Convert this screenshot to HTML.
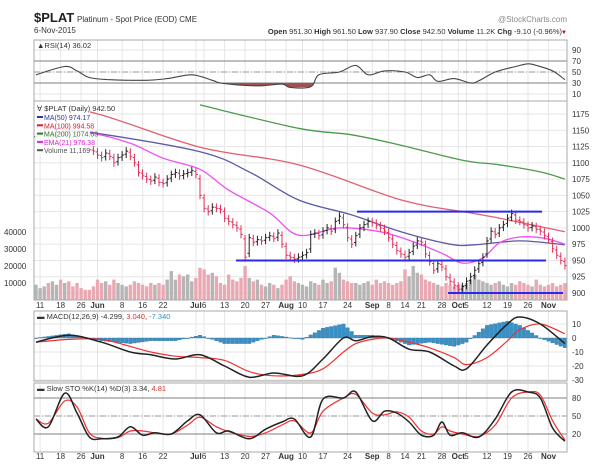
<!DOCTYPE html>
<html><head><meta charset="utf-8"><style>
body{margin:0;background:#fff;font-family:"Liberation Sans",sans-serif}
svg text{font-family:"Liberation Sans",sans-serif}
</style></head><body>
<svg id="c" width="600" height="470" xmlns="http://www.w3.org/2000/svg"></svg>
<script>
const closes=[1140,1145,1150,1135,1140,1150,1145,1155,1150,1140,
1135,1130,1125,1120,1118,1112,1108,1115,1110,1100,
1108,1112,1118,1110,1100,1085,1080,1075,1072,1078,
1070,1068,1075,1082,1085,1080,1083,1085,1088,1082,
1050,1030,1025,1032,1030,1028,1015,1010,1005,1000,
990,955,985,978,982,980,985,988,984,992,
975,958,955,952,955,958,962,990,992,988,
995,1000,995,1010,1018,1005,985,975,988,1000,
1005,1010,1008,1004,1000,995,985,975,965,960,
955,962,972,980,978,960,948,935,945,940,
925,918,912,905,910,918,925,935,945,955,
980,995,990,1000,1005,1015,1022,1012,1010,1005,
1000,1003,998,995,988,982,968,958,950,942];
const volumes=[9000,7000,8000,10000,11000,9000,12000,10000,11000,8000,
10000,7000,6000,6000,8000,12000,10000,11000,9000,12000,
10000,9000,8000,9000,11000,10000,9000,8000,10000,9000,
10000,9000,12000,17000,12000,15000,14000,15000,11000,13000,
19000,18000,15000,16000,14000,10000,9000,15000,12000,11000,
13000,20000,13000,11000,12000,9000,8000,10000,9000,7000,
9000,12000,14000,11000,10000,9000,8000,11000,10000,9000,
12000,10000,11000,19000,16000,12000,11000,10000,10000,9000,
10000,11000,9000,12000,10000,11000,10000,9000,10000,11000,
18000,14000,20000,16000,15000,12000,11000,10000,9000,8000,
10000,9000,8000,9000,9000,10000,12000,15000,12000,11000,
10000,9000,10000,11000,9000,8000,10000,9000,11000,10000,
9000,8000,12000,9000,8000,9000,10000,8000,9000,10000];
const ma50Days=[0,13,40,52,64,77,89,101,107,118,129];
const ma50=[1155,1147,1117,1086,1043,1020,994,975,974,980,974];
const ma100Days=[0,14,40,64,89,106,113,129];
const ma100=[1185,1177,1124,1097,1043,1023,1015,994];
const ma200Days=[40,64,77,89,104,113,123,129];
const ma200=[1189,1153,1143,1127,1104,1097,1086,1075];
const emaDays=[0,13,23,31,40,47,57,64,74,84,91,99,104,109,113,118,124,129];
const ema21=[1152,1146,1130,1107,1090,1058,1023,989,1000,994,981,961,946,954,977,986,984,975];
const rsiDays=[0,7,10,13,18,27,32,38,43,45,50,55,60,62,67,69,74,78,81,85,90,93,96,98,102,106,108,112,117,120,122,126,129];
const rsiVals=[45,60,52,40,36,35,38,45,35,30,26,25,28,22,23,45,50,62,45,52,50,40,45,33,38,30,34,50,60,65,62,52,36];
const macdDays=[0,8,16,23,28,34,40,46,52,58,65,70,75,78,82,86,91,96,102,105,110,115,118,123,129];
const macdVals=[-3,2,-3,-10,-12,-15,-12,-20,-28,-25,-27,-15,0,-2,1,0,-8,-10,-20,-22,-5,10,15,10,-4];
const sigVals=[-3,-1,-1,-6,-10,-13,-14,-16,-24,-27,-26,-22,-10,-4,-1,0,-3,-7,-14,-19,-14,-2,6,10,3];
const stoDays=[0,3,7,10,13,16,20,23,26,29,33,37,40,44,47,52,56,60,63,67,70,75,78,82,85,88,91,94,97,99,101,104,108,112,116,120,123,126,129];
const stoK=[45,32,88,55,15,12,15,32,18,22,20,42,52,22,25,12,28,40,45,15,78,80,90,42,58,55,40,18,18,40,18,22,15,45,90,90,80,30,8];
const stoD=[45,38,75,65,22,13,14,25,25,22,20,35,48,32,24,16,22,35,42,22,58,80,86,55,52,57,48,25,20,32,25,20,16,35,80,90,85,42,10];
const dateLabels=["11","18","26","Jun","8","16","22","Jul","6","13","20","27","Aug","10","17","24","Sep","8","14","21","28","Oct","5","12","19","26","Nov"];
const dateDays=[1,6,11,15,21,26,31,39,41,46,51,56,61,65,70,76,82,86,90,94,99,103,105,110,115,120,125];
const bolds=["Jun","Jul","Aug","Sep","Oct","Nov"];

const svg=document.getElementById('c');const NS='http://www.w3.org/2000/svg';
function mk(t,a,p){const e=document.createElementNS(NS,t);for(const k in a)e.setAttribute(k,a[k]);(p||svg).appendChild(e);return e;}
function tx(x,y,s,a,p){const e=mk('text',Object.assign({x:x,y:y,'font-size':8,fill:'#333'},a||{}),p);e.textContent=s;return e;}
const L=34,R=567;
const xs=i=>36+i*4.1;
const yP=p=>293-(p-900)*0.651;
const yV=v=>300-v/1000*1.7;
const yR=v=>72-(v-50)*0.55;
const yM=v=>338-v*1.4;
const yS=v=>416-(v-50)*0.6;
function interp(days,vals,i){for(let k=0;k<days.length-1;k++){if(i>=days[k]&&i<=days[k+1]){const t=(i-days[k])/(days[k+1]-days[k]);return vals[k]+t*(vals[k+1]-vals[k]);}}return vals[vals.length-1];}
function smoothPath(pts){let d='M'+pts[0][0].toFixed(1)+','+pts[0][1].toFixed(1);for(let k=0;k<pts.length-1;k++){const p0=pts[k-1]||pts[k],p1=pts[k],p2=pts[k+1],p3=pts[k+2]||p2;const c1=[p1[0]+(p2[0]-p0[0])/6,p1[1]+(p2[1]-p0[1])/6],c2=[p2[0]-(p3[0]-p1[0])/6,p2[1]-(p3[1]-p1[1])/6];d+='C'+c1[0].toFixed(1)+','+c1[1].toFixed(1)+' '+c2[0].toFixed(1)+','+c2[1].toFixed(1)+' '+p2[0].toFixed(1)+','+p2[1].toFixed(1);}return d;}
function line(days,vals,yf,col,w,name,clip){const pts=days.map((d,k)=>[xs(d),yf(vals[k])]);const e=mk('path',{d:smoothPath(pts),fill:'none',stroke:col,'stroke-width':w,'clip-path':clip||''});return e;}

let t=tx(34,22,'$PLAT',{'font-size':13,'font-weight':'bold',fill:'#222'});
t=tx(77,22,'Platinum  - Spot Price (EOD) CME',{'font-size':8});
t=tx(34,33,'6-Nov-2015',{'font-size':8});
t=tx(567,22,'@StockCharts.com',{'font-size':8,fill:'#888','text-anchor':'end'});
t=tx(562,34,'',{'font-size':7.5,'text-anchor':'end'});
t.innerHTML='<tspan font-weight="bold">Open</tspan> 951.30 <tspan font-weight="bold">High</tspan> 961.50 <tspan font-weight="bold">Low</tspan> 937.90 <tspan font-weight="bold">Close</tspan> 942.50 <tspan font-weight="bold">Volume</tspan> 11.2K <tspan font-weight="bold">Chg</tspan> -9.10 (-0.96%)';
t=tx(567,34,'▼',{'font-size':6,fill:'#c00','text-anchor':'end'});

const panels=[[40,101,'rsi-panel'],[101,300,'price-panel'],[311,381,'macd-panel'],[383,452,'sto-panel']];
const defs=mk('defs',{});
panels.forEach((p,k)=>{const cp=mk('clipPath',{id:'cp'+k},defs);mk('rect',{x:L,y:p[0],width:R-L,height:p[1]-p[0]},cp);});
panels.forEach(p=>{dateDays.forEach(d=>{mk('line',{x1:xs(d),x2:xs(d),y1:p[0],y2:p[1],stroke:'#e6e6e6','stroke-width':1});});});
function hgrid(vals,yf,name){vals.forEach(v=>{mk('line',{x1:L,x2:R,y1:yf(v),y2:yf(v),stroke:'#e6e6e6'});const e=tx(572,yf(v)+3,String(v),{'font-size':8});});}
hgrid([90,70,50,30,10],yR,'rsi-tick');
hgrid([1175,1150,1125,1100,1075,1050,1025,1000,975,950,925,900],yP,'price-tick');
hgrid([10,0,-10,-20,-30],yM,'macd-tick');
hgrid([80,50,20],yS,'sto-tick');
[10000,20000,30000,40000].forEach(v=>{const e=tx(4,yV(v)+3,String(v),{'font-size':8});});
[[70,yR],[30,yR],[80,yS],[20,yS]].forEach(r=>mk('line',{x1:L,x2:R,y1:r[1](r[0]),y2:r[1](r[0]),stroke:'#999','stroke-width':1.2}));
[[50,yR],[50,yS]].forEach(r=>mk('line',{x1:L,x2:R,y1:r[1](r[0]),y2:r[1](r[0]),stroke:'#999','stroke-dasharray':'6,2,1,2'}));

volumes.forEach((v,i)=>{const up=i==0||closes[i]>=closes[i-1];const e=mk('rect',{x:xs(i)-1.7,y:yV(v),width:3.4,height:300-yV(v),fill:up?'#b5b5b5':'#e9a9b2','clip-path':'url(#cp1)'});});
line(ma100Days,ma100,yP,'#e06070',1.3,'ma100-line','url(#cp1)');
line(ma200Days,ma200,yP,'#4a9a4a',1.3,'ma200-line','url(#cp1)');
line(ma50Days,ma50,yP,'#5a5aa8',1.3,'ma50-line','url(#cp1)');
line(emaDays,ema21,yP,'#f050f0',1.3,'ema21-line','url(#cp1)');
closes.forEach((c,i)=>{const o=i==0?c:closes[i-1]+(c-closes[i-1])*0.2;const up=i==0||c>=closes[i-1];const col=up?'#222':'#e0305a';const hi=Math.max(o,c)+6,lo=Math.min(o,c)-6;const g=mk('g',{stroke:col,'stroke-width':1,'clip-path':'url(#cp1)'});const x=xs(i);mk('line',{x1:x,x2:x,y1:yP(hi),y2:yP(lo)},g);mk('line',{x1:x-1.8,x2:x,y1:yP(o),y2:yP(o)},g);mk('line',{x1:x,x2:x+1.8,y1:yP(c),y2:yP(c)},g);});
[[1025,357,542],[950,236,546],[900,448,563]].forEach(h=>{const e=mk('line',{x1:h[1],x2:h[2],y1:yP(h[0]),y2:yP(h[0]),stroke:'#2a2aee','stroke-width':2});});
const lg=mk('g',{});
mk('rect',{x:35,y:102,width:55,height:52,fill:'#fff',opacity:0.9},lg);
tx(37,111,'∀ $PLAT (Daily) 942.50',{'font-size':7.5},lg);
[['MA(50) 974.17','#33339a'],['MA(100) 994.58','#d02030'],['MA(200) 1074.63','#2a7a2a'],['EMA(21) 976.38','#e020e0'],['Volume 11,169','#555']].forEach((l,k)=>{mk('line',{x1:37,x2:43,y1:117+k*8.3,y2:117+k*8.3,stroke:l[1],'stroke-width':2},lg);tx(44,120+k*8.3,l[0],{'font-size':7,fill:l[1]},lg);});

const rp=[];for(let i=0;i<=129;i++)rp.push([xs(i),yR(interp(rsiDays,rsiVals,i))]);
let d='';rp.forEach(p=>{d+=(d?'L':'M')+p[0].toFixed(1)+','+Math.max(p[1],yR(30)).toFixed(1);});
d+='L'+xs(129)+','+yR(30)+'L'+xs(0)+','+yR(30)+'Z';
let e=mk('path',{d:d,fill:'#a05050',stroke:'none'});
line(rsiDays,rsiVals,yR,'#444',1.1,'rsi-line');
t=tx(37,48,'▲RSI(14) 36.02',{'font-size':7.5});

for(let i=0;i<=129;i++){const h=interp(macdDays,macdVals,i)-interp(macdDays,sigVals,i);const y0=yM(0),y1=yM(h);e=mk('rect',{x:xs(i)-1.8,y:Math.min(y0,y1),width:3.6,height:Math.max(0.6,Math.abs(y1-y0)),fill:'#3a8fc4',stroke:'#2a6f9a','stroke-width':0.3});}
line(macdDays,sigVals,yM,'#f03030',1.2,'macd-signal-line','url(#cp2)');
line(macdDays,macdVals,yM,'#222',1.5,'macd-line','url(#cp2)');
t=tx(37,319,'',{'font-size':7.5});t.innerHTML='▬ MACD(12,26,9) -4.299, <tspan fill="#e03030">3.040</tspan>, <tspan fill="#3a8fc4">-7.340</tspan>';

line(stoDays,stoD,yS,'#f03030',1.2,'sto-d-line','url(#cp3)');
line(stoDays,stoK,yS,'#222',1.5,'sto-k-line','url(#cp3)');
t=tx(37,391,'',{'font-size':7.5});t.innerHTML='▬ Slow STO %K(14) %D(3) 3.34, <tspan fill="#e03030">4.81</tspan>';

panels.forEach(p=>{e=mk('rect',{x:L,y:p[0],width:R-L,height:p[1]-p[0],fill:'none',stroke:'#aaa','stroke-width':1});});
[308,459].forEach(y=>{dateLabels.forEach((s,k)=>{const b=bolds.includes(s);const e=tx(xs(dateDays[k]),y,s,{'font-size':8,'text-anchor':'middle','font-weight':b?'bold':'normal'});});});
</script>
</body></html>
